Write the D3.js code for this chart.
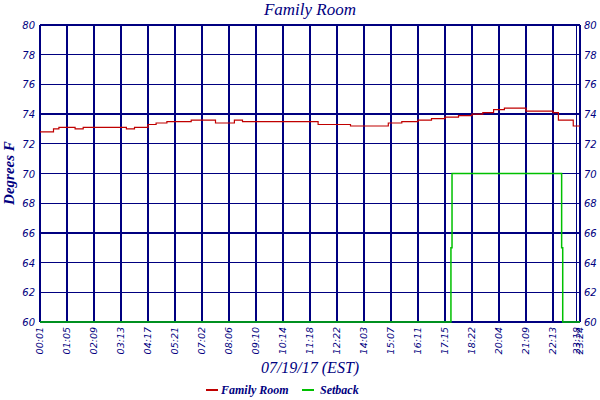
<!DOCTYPE html>
<html><head><meta charset="utf-8">
<script src="https://cdn.jsdelivr.net/npm/d3@7"></script>
<style>body{margin:0;background:#fff}svg{display:block}</style>
</head><body><svg id="c" width="600" height="400"></svg>
<script>
const tickLabels=["00:01","01:05","02:09","03:13","04:17","05:21","07:02","08:06","09:10","10:14","11:18","12:22","14:03","15:07","16:11","17:15","18:22","20:04","21:09","22:13","23:18","23:24"];
const tickIndex=[0,1,2,3,4,5,6,7,8,9,10,11,12,13,14,15,16,17,18,19,19.88,20];
const roomIdx=[0,0.3,0.5,0.7,1.0,1.3,1.6,2.0,2.4,2.8,3.2,3.5,4.0,4.3,4.7,5.0,5.6,6.2,6.5,7.0,7.2,7.5,8.0,9.0,10.0,10.3,11.0,11.5,12.0,12.6,12.9,13.4,14.0,14.5,15.0,15.5,16.0,16.4,16.8,17.2,17.6,18.0,18.5,19.0,19.2,19.6,19.75,20];
const roomVal=[72.8,72.8,73.0,73.1,73.1,73.0,73.1,73.1,73.1,73.1,73.0,73.1,73.3,73.4,73.5,73.5,73.6,73.6,73.4,73.4,73.6,73.5,73.5,73.5,73.5,73.3,73.3,73.2,73.2,73.2,73.4,73.5,73.6,73.7,73.8,73.9,74.0,74.1,74.3,74.4,74.4,74.2,74.2,74.1,73.6,73.6,73.2,73.2];
const setIdx=[0,15.22,15.22,15.26,15.26,19.32,19.32,19.36,19.36,20];
const setVal=[60,60,65,65,70,70,65,65,60,60];
const yTicks=[60,62,64,66,68,70,72,74,76,78,80];
const navy="#000080";
const svg=d3.select("#c");
const m={l:40,r:580,t:25,b:322};
const x=d3.scaleLinear().domain([0,20]).range([m.l,m.r]);
const y=d3.scaleLinear().domain([60,80]).range([m.b,m.t]);
const g=svg.append("g").attr("shape-rendering","crispEdges");
yTicks.forEach(v=>g.append("line").attr("x1",m.l).attr("x2",m.r).attr("y1",y(v)).attr("y2",y(v)).attr("stroke",navy).attr("stroke-width",1.3));
tickIndex.forEach(v=>g.append("line").attr("x1",x(v)).attr("x2",x(v)).attr("y1",m.t).attr("y2",m.b).attr("stroke",navy).attr("stroke-width",1.3));
g.append("line").attr("x1",m.l).attr("x2",m.l).attr("y1",m.t).attr("y2",m.b).attr("stroke",navy).attr("stroke-width",2.5);
g.append("line").attr("x1",m.r).attr("x2",m.r).attr("y1",m.t).attr("y2",m.b).attr("stroke",navy).attr("stroke-width",2.5);
const font="'DejaVu Sans', sans-serif";
const lab=svg.append("g").attr("fill",navy).attr("font-family",font).attr("font-style","italic").attr("font-size",10);
yTicks.forEach(v=>{
 lab.append("text").attr("x",m.l-5).attr("y",y(v)+4).attr("text-anchor","end").text(v);
 lab.append("text").attr("x",m.r+4).attr("y",y(v)+4).attr("text-anchor","start").text(v);
});
tickLabels.forEach((t,i)=>{
 lab.append("text").attr("transform",`translate(${x(tickIndex[i])+3},${m.b+5}) rotate(-90)`).attr("text-anchor","end").attr("font-size",9.5).text(t);
});
const line=d3.line().curve(d3.curveStepAfter).x(d=>x(d[0])).y(d=>y(d[1]));
const setData=setIdx.map((v,i)=>[v,setVal[i]]);
svg.append("path").attr("d",d3.line().x(d=>x(d[0])).y(d=>y(d[1]))(setData)).attr("fill","none").attr("stroke","#00c000").attr("stroke-width",1.5);
svg.append("path").attr("d",line(roomIdx.map((v,i)=>[v,roomVal[i]]))).attr("fill","none").attr("stroke","#c00000").attr("stroke-width",1.2);
const tf="'Liberation Serif', serif";
svg.append("text").attr("x",310).attr("y",15).attr("text-anchor","middle").attr("font-family",tf).attr("font-style","italic").attr("font-size",17).attr("fill",navy).text("Family Room");
svg.append("text").attr("x",310).attr("y",373).attr("text-anchor","middle").attr("font-family",tf).attr("font-style","italic").attr("font-size",16).attr("fill",navy).text("07/19/17 (EST)");
svg.append("text").attr("transform","translate(14,173) rotate(-90)").attr("text-anchor","middle").attr("font-family",tf).attr("font-style","italic").attr("font-weight","bold").attr("font-size",15).attr("fill",navy).text("Degrees F");
const lg=svg.append("g").attr("font-family",tf).attr("font-style","italic").attr("font-weight","bold").attr("font-size",12).attr("fill",navy);
lg.append("line").attr("x1",206).attr("x2",218).attr("y1",390).attr("y2",390).attr("stroke","#c00000").attr("stroke-width",2);
lg.append("text").attr("x",221).attr("y",394).text("Family Room");
lg.append("line").attr("x1",302).attr("x2",314).attr("y1",390).attr("y2",390).attr("stroke","#00c000").attr("stroke-width",2);
lg.append("text").attr("x",320).attr("y",394).text("Setback");
</script></body></html>
